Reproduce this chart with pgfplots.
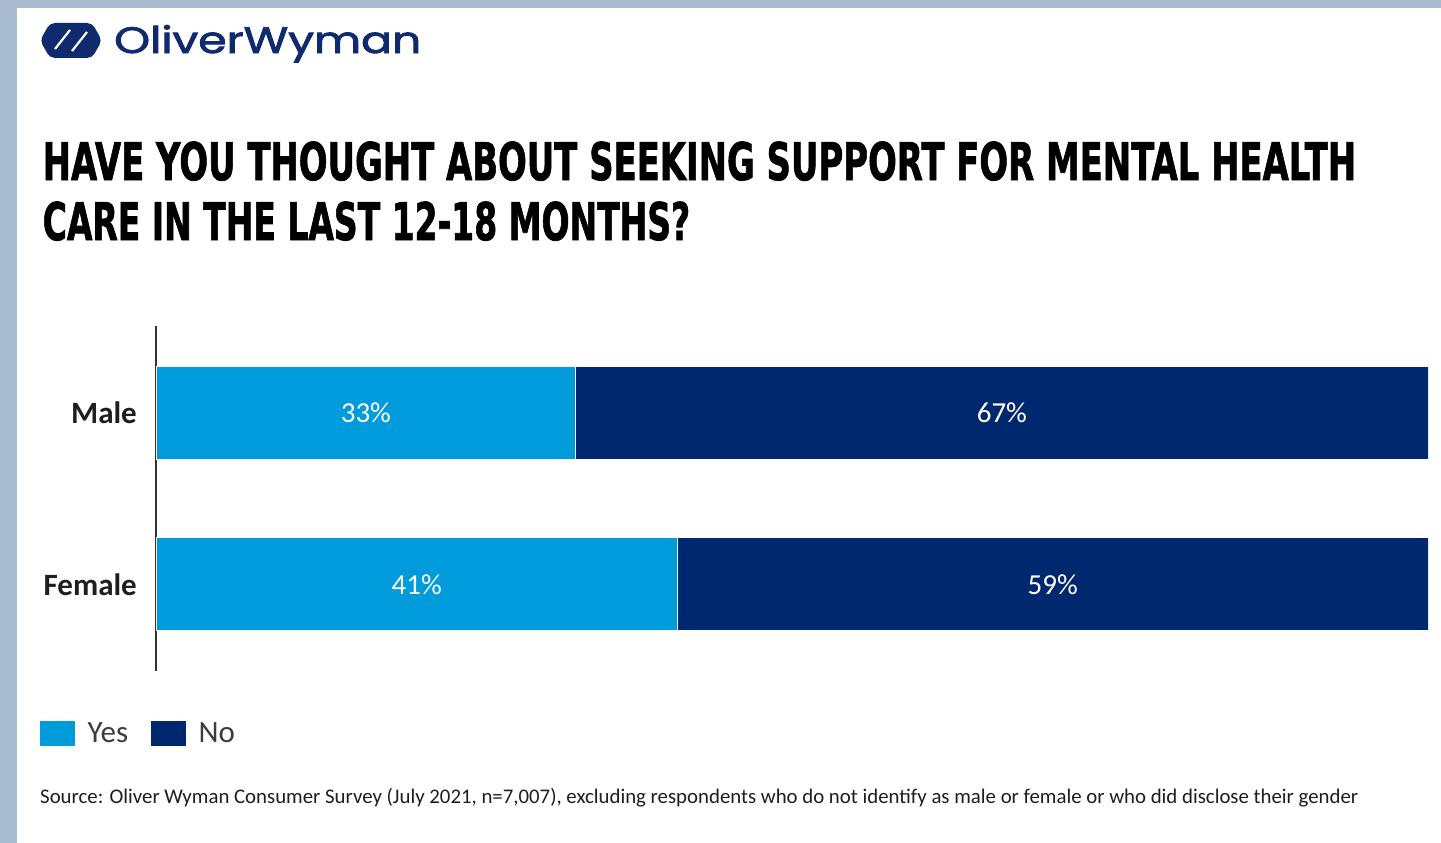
\documentclass[border=0pt]{standalone}
\usepackage{pgfplots}
\pgfplotsset{compat=1.18}
\usepackage{fontspec}
\setmainfont{Carlito}
\newfontfamily\titlefont{DejaVu Sans}[BoldFeatures={FakeBold=1.6}]
\newfontfamily\logofont{Poppins}[FakeBold=2]
\definecolor{yescol}{RGB}{0,155,219}
\definecolor{nocol}{RGB}{0,40,110}
\definecolor{bgcol}{RGB}{170,188,207}
\definecolor{logocol}{RGB}{16,42,110}
\definecolor{txt}{RGB}{30,30,30}
\definecolor{gtxt}{RGB}{60,60,60}
\pgfplotstableread{
y yes no
0 41 59
1 33 67
}\datatab
\pgfplotsset{
  commonax/.style={
    at={(156pt,-671pt)}, anchor=south west,
    scale only axis, width=1272pt, height=345pt,
    xmin=0, xmax=100, ymin=-0.503, ymax=1.503,
  }
}
\begin{document}
\begin{tikzpicture}[x=1pt,y=1pt]
\fill[bgcol] (0,0) rectangle (1441,-843);
\fill[white] (17,-8) rectangle (1441,-843);
% logo
\fill[logocol, rounded corners=5pt] (40,-40.5) -- (50,-23) -- (92,-23) -- (102,-40.5) -- (92,-58) -- (50,-58) -- cycle;
\draw[white, line width=2.2pt] (55,-49) -- (70,-30);
\draw[white, line width=2.2pt] (72,-51) -- (87,-32);
\node[anchor=base west, inner sep=0pt, text=logocol] at (114,-53) {\resizebox{307pt}{28pt}{\logofont OliverWyman}};
% title
\node[anchor=base west, inner sep=0pt, text=black] at (42.5,-180) {\resizebox{1313.5pt}{38.5pt}{\titlefont\bfseries HAVE YOU THOUGHT ABOUT SEEKING SUPPORT FOR MENTAL HEALTH}};
\node[anchor=base west, inner sep=0pt, text=black] at (42.5,-240) {\resizebox{647.5pt}{38.5pt}{\titlefont\bfseries CARE IN THE LAST 12-18 MONTHS?}};
% chart
\begin{axis}[
  commonax,
  xbar stacked, bar width=93pt,
  axis x line=none,
  axis y line=left,
  y axis line style={-, draw=black!80, line width=1.6pt},
  xtick=\empty,
  ytick={0,1}, yticklabels={Female,Male},
  major tick length=0pt,
  yticklabel style={font=\fontsize{31}{36}\selectfont\bfseries, text=txt, anchor=east, inner sep=0pt, xshift=-19pt},
  legend style={at={(rel axis cs:-0.0912,-0.1449)}, anchor=north west, draw=none, fill=none, inner sep=0pt, legend columns=2, font=\fontsize{31}{36}\selectfont, text=gtxt, nodes={inner sep=0pt}, /tikz/every even column/.append style={column sep=23pt}},
  legend image code/.code={\draw[#1, draw=none] (0pt,-12.5pt) rectangle (35pt,12.5pt); \path (47pt,0pt);},
]
\addplot[fill=yescol, draw=white, line width=1pt] table[x=yes, y=y] {\datatab};
\addplot[fill=nocol, draw=white, line width=1pt] table[x=no, y=y] {\datatab};
\legend{Yes, No}
\end{axis}
% value labels at segment midpoints
\begin{axis}[
  commonax, hide axis,
]
\addplot[draw=none, mark=none, point meta=explicit symbolic,
  nodes near coords,
  nodes near coords style={anchor=center, text=white, font=\fontsize{29}{34}\selectfont, inner sep=0pt}]
  coordinates {(16.5,1) [33\%] (66.5,1) [67\%] (20.5,0) [41\%] (70.5,0) [59\%]};
\end{axis}
% source
\node[anchor=base west, inner sep=0pt, text=txt] at (40,-803) {\resizebox{1318pt}{!}{\fontsize{20}{24}\selectfont Source: Oliver Wyman Consumer Survey (July 2021, n=7,007), excluding respondents who do not identify as male or female or who did disclose their gender}};
\pgfresetboundingbox
\path (0,0) rectangle (1441,-843);
\end{tikzpicture}
\end{document}
